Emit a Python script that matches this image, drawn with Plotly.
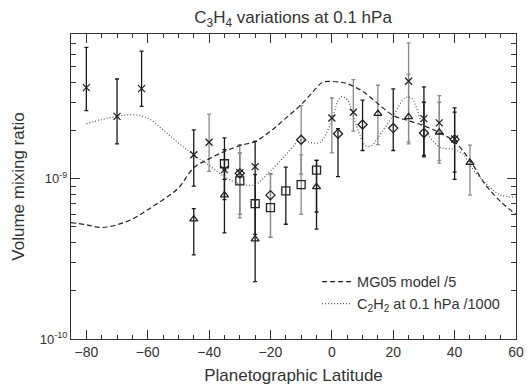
import plotly.graph_objects as go

# latitudes / values (volume mixing ratio)
# crosses
x_lat = [-80, -70, -62, -45, -40, -35, -30, -25, 0, 7, 25, 30, 35, 40]
x_val = [3.7e-9, 2.45e-9, 3.65e-9, 1.41e-9, 1.69e-9, 1.14e-9, 1.09e-9, 1.19e-9,
         2.39e-9, 2.60e-9, 4.06e-9, 2.37e-9, 2.23e-9, 1.77e-9]
x_hi = [6.6e-9, 4.19e-9, 6.25e-9, 2.02e-9, 2.53e-9, 1.80e-9, 1.63e-9, 1.71e-9,
        3.19e-9, 4.15e-9, 7.05e-9, 3.74e-9, 3.30e-9, 2.77e-9]
x_lo = [2.66e-9, 1.65e-9, 2.83e-9, 0.90e-9, 1.11e-9, 0.74e-9, 0.57e-9, 0.74e-9,
        1.45e-9, 1.98e-9, 1.65e-9, 1.37e-9, 1.25e-9, 0.99e-9]

# squares
sq_lat = [-35, -30, -25, -20, -15, -10, -5]
sq_val = [1.24e-9, 0.97e-9, 0.70e-9, 0.66e-9, 0.84e-9, 0.92e-9, 1.13e-9]
sq_hi = [1.52e-9, 1.45e-9, 1.06e-9, 1.07e-9, 1.18e-9, 1.41e-9, 1.30e-9]
sq_lo = [0.99e-9, 0.60e-9, 0.45e-9, 0.43e-9, 0.52e-9, 0.60e-9, 0.62e-9]

# diamonds
dm_lat = [-30, -20, -10, 2, 10, 20, 30, 40]
dm_val = [1.08e-9, 0.79e-9, 1.75e-9, 1.91e-9, 2.18e-9, 2.07e-9, 1.93e-9, 1.76e-9]
dm_hi = [1.45e-9, 1.07e-9, 2.86e-9, 2.05e-9, 3.09e-9, 3.64e-9, 3.0e-9, 2.6e-9]
dm_lo = [0.60e-9, 0.43e-9, 1.07e-9, 1.03e-9, 1.50e-9, 1.50e-9, 1.4e-9, 1.1e-9]

# triangles
tr_lat = [-45, -35, -25, -5, 15, 25, 35, 45]
tr_val = [0.56e-9, 0.79e-9, 0.42e-9, 0.89e-9, 2.55e-9, 2.43e-9, 1.95e-9, 1.26e-9]
tr_hi = [0.65e-9, 1.14e-9, 0.74e-9, 1.30e-9, 3.83e-9, 4.5e-9, 3.0e-9, 1.62e-9]
tr_lo = [0.335e-9, 0.46e-9, 0.228e-9, 0.485e-9, 1.63e-9, 1.7e-9, 1.3e-9, 0.79e-9]

# latitudes whose error bars are grey
grey_lat = [-40, -30, -20, -10, 0, 7, 15, 25, 35, 45]

# MG05 model /5
mg_lat = [-85, -80, -75, -70, -65, -60, -55, -50, -45, -40, -35, -30, -25, -20,
          -15, -10, -5, -3, 3, 5, 10, 15, 20, 25, 30, 35, 40, 45, 50, 55, 60]
mg_val = [0.533, 0.516, 0.496, 0.516, 0.56, 0.64, 0.74, 0.875, 1.17, 1.33, 1.48,
          1.61, 1.71, 1.98, 2.39, 2.90, 3.69, 4.00, 4.00, 3.92, 3.51, 2.94, 2.48,
          2.30, 2.14, 1.94, 1.70, 1.30, 0.92, 0.72, 0.60]

# C2H2 at 0.1 hPa /1000
c2_lat = [-80, -75, -70, -65, -60, -55, -50, -45, -40, -35, -30, -25, -20, -15,
          -10, -7, -4, -2, 0, 3, 5, 8, 11, 13, 15, 20, 24, 26, 30, 35, 40, 43,
          45, 50, 55, 60]
c2_val = [2.20, 2.34, 2.45, 2.51, 2.39, 2.02, 1.67, 1.41, 1.21, 1.03, 0.93, 0.92,
          1.12, 1.41, 1.75, 1.68, 1.68, 1.88, 2.34, 3.25, 3.12, 2.14, 1.61, 1.61,
          1.80, 2.48, 3.21, 3.17, 2.08, 1.58, 1.52, 1.41, 1.21, 0.94, 0.79, 0.77]

# y-axis ticks
y_major = [1e-10, 1e-9]
y_labels = ['10<sup>-10</sup>', '10<sup>-9</sup>']
y_minor = [m * 1e-10 for m in range(2, 10)] + [m * 1e-9 for m in range(2, 9)]

FONT = "Liberation Sans, Arial, sans-serif"
INK = "#222222"
AX = '#333333'
Y_RANGE = [-10, -8.097]

fig = go.Figure()

# error bars, split by colour
all_pts = []
for lat, val, hi, lo in [(x_lat, x_val, x_hi, x_lo), (sq_lat, sq_val, sq_hi, sq_lo),
                         (dm_lat, dm_val, dm_hi, dm_lo), (tr_lat, tr_val, tr_hi, tr_lo)]:
    all_pts += list(zip(lat, val, hi, lo))

for colour, grey in [("#1a1a1a", False), ("#8a8a8a", True)]:
    pts = [p for p in all_pts if (p[0] in grey_lat) == grey]
    fig.add_trace(go.Scatter(
        x=[p[0] for p in pts], y=[p[1] for p in pts],
        mode='markers', marker=dict(size=1, opacity=0),
        error_y=dict(type='data', symmetric=False,
                     array=[p[2] - p[1] for p in pts],
                     arrayminus=[p[1] - p[3] for p in pts],
                     color=colour, thickness=1.3, width=2),
        showlegend=False, hoverinfo='skip'))

# model lines
fig.add_trace(go.Scatter(
    x=mg_lat, y=[v * 1e-9 for v in mg_val], mode='lines', line_shape='spline',
    name='MG05 model /5', legendgroup='a',
    line=dict(color=INK, width=1.2, dash='5px,3px')))
fig.add_trace(go.Scatter(
    x=c2_lat, y=[v * 1e-9 for v in c2_val], mode='lines', line_shape='spline',
    name='C<sub>2</sub>H<sub>2</sub> at 0.1 hPa /1000', legendgroup='b',
    line=dict(color='#555555', width=1.2, dash='1px,2px')))

# markers
for lat, val, sym, sz in [(x_lat, x_val, 'x-thin-open', 7), (sq_lat, sq_val, 'square-open', 8),
                          (dm_lat, dm_val, 'diamond-open', 7), (tr_lat, tr_val, 'triangle-up-open', 7)]:
    fig.add_trace(go.Scatter(
        x=lat, y=val, mode='markers', showlegend=False,
        marker=dict(symbol=sym, size=sz, color=INK, line=dict(color=INK, width=1.3))))

# empty trace so the minor-tick overlay axis gets drawn
fig.add_trace(go.Scatter(x=[None], y=[None], yaxis='y2', showlegend=False, hoverinfo='skip'))

axis_common = dict(
    showline=True, linecolor=AX, linewidth=1.2, mirror='ticks',
    ticks='inside', ticklen=9, tickwidth=1.2, tickcolor=AX, showgrid=False,
    zeroline=False, automargin=False,
)

fig.update_layout(
    width=530, height=385,
    margin=dict(l=71, r=14, t=34, b=46),
    paper_bgcolor='white', plot_bgcolor='white',
    font=dict(family=FONT, color=AX),
    title=dict(text='C<sub>3</sub>H<sub>4</sub> variations at 0.1 hPa',
               x=0.553, xanchor='center', y=0.955, yanchor='middle',
               font=dict(size=17, color=AX)),
    xaxis=dict(range=[-85, 60], tick0=0, dtick=20,
               tickfont=dict(size=14, color=AX, family=FONT),
               minor=dict(dtick=5, ticks='inside', ticklen=4, tickwidth=1.2, tickcolor=AX),
               title=dict(text='Planetographic Latitude', font=dict(size=17), standoff=10),
               **axis_common),
    yaxis=dict(type='log', range=Y_RANGE, tickmode='array',
               tickvals=y_major, ticktext=y_labels,
               tickfont=dict(size=13, color=AX, family=FONT),
               title=dict(text='Volume mixing ratio', font=dict(size=17), standoff=10),
               **axis_common),
    yaxis2=dict(type='log', range=Y_RANGE, overlaying='y', side='left',
                tickmode='array', tickvals=y_minor, showticklabels=False,
                ticks='inside', ticklen=5, tickwidth=1.2, tickcolor=AX, showline=True,
                linecolor=AX, linewidth=1.2, mirror='ticks', showgrid=False,
                zeroline=False, automargin=False),
    legend=dict(x=0.553, y=0.24, xanchor='left', yanchor='top',
                bgcolor='rgba(0,0,0,0)', font=dict(size=14.5, color=AX),
                tracegroupgap=0, traceorder='grouped'),
)

fig.write_html("out.html", config={'displayModeBar': False},
               post_script="document.body.style.margin='0';")
